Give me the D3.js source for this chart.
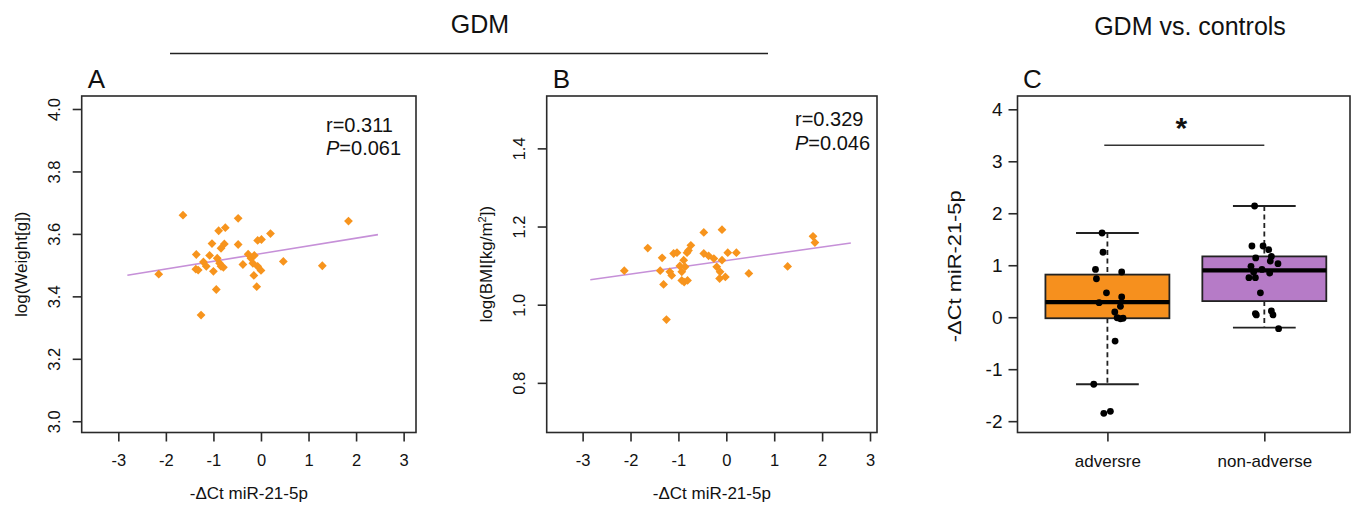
<!DOCTYPE html>
<html>
<head>
<meta charset="utf-8">
<script src="https://cdn.jsdelivr.net/npm/d3@7"></script>
<style>
  html, body { margin: 0; padding: 0; background: #fff; }
  svg { display: block; font-family: "Liberation Sans", Arial, sans-serif; }
</style>
</head>
<body>
<svg id="chart" width="1358" height="506"></svg>
<script>
// ---------------- DATA ----------------
const xTicks = [-3, -2, -1, 0, 1, 2, 3];
const yTicksA = [3.0, 3.2, 3.4, 3.6, 3.8, 4.0];
const yTicksB = [0.8, 1.0, 1.2, 1.4];
const yTicksC = [-2, -1, 0, 1, 2, 3, 4];

// Panel A: -dCt miR-21-5p vs log(Weight[g])
const aX = [-1.64, -2.15, -1.26, -1.36, -1.37, -1.32, -1.21, -1.15, -1.08, -1.03, -0.94, -1.00, -0.92,
            -0.89, -0.75, -0.77, -0.84, -0.87, -0.84, -0.79, -0.48, -0.48, -0.38, -0.27, -0.21, -0.14,
            -0.17, -0.07, 0.00, -0.15, -0.09, -0.07, 0.01, 0.20, 0.47, 1.29, 1.84];
const aY = [3.660, 3.471, 3.340, 3.534, 3.487, 3.484, 3.510, 3.496, 3.531, 3.569, 3.422, 3.480, 3.522,
            3.610, 3.620, 3.568, 3.554, 3.506, 3.496, 3.493, 3.650, 3.566, 3.502, 3.535, 3.522, 3.531,
            3.506, 3.496, 3.483, 3.467, 3.431, 3.579, 3.582, 3.601, 3.512, 3.498, 3.641];
const fitA = [3.537, 0.0247];       // intercept, slope
const fitARange = [-2.81, 2.46];
const statA = ["r=0.311", "0.061"];

// Panel B: -dCt miR-21-5p vs log(BMI[kg/m2])
const bX = [-2.13, -1.64, -1.34, -1.38, -1.31, -1.25, -1.18, -1.14, -1.10, -1.03, -0.97, -0.93, -0.89,
            -0.86, -0.93, -0.88, -0.81, -0.82, -0.74, -0.79, -0.47, -0.47, -0.37, -0.26, -0.20, -0.09,
            -0.09, -0.13, -0.14, -0.02, 0.03, 0.21, 0.47, 1.28, 1.81, 1.85];
const bY = [1.087, 1.145, 1.120, 1.087, 1.052, 0.962, 1.084, 1.075, 1.131, 1.133, 1.099, 1.084, 1.114,
            1.097, 1.062, 1.058, 1.062, 1.133, 1.152, 1.139, 1.185, 1.131, 1.125, 1.118, 1.097, 1.114,
            1.192, 1.084, 1.067, 1.071, 1.133, 1.133, 1.080, 1.098, 1.175, 1.159];
const fitB = [1.113, 0.01728];
const fitBRange = [-2.84, 2.60];
const statB = ["r=0.329", "0.046"];

// Panel C: boxplots
const groups = ["adversre", "non-adverse"];
const boxLow = [-1.29, -0.20];
const boxQ1 = [-0.02, 0.31];
const boxMed = [0.29, 0.90];
const boxQ3 = [0.82, 1.17];
const boxHigh = [1.62, 2.14];
const boxColors = ["#F6901E", "#B67BC7"];

const advVals = [1.62, 1.25, 0.92, 0.74, 0.87, 0.47, 0.28, 0.39, 0.21, 0.10, -0.01, -0.03, -0.02, -0.46, -1.29, -1.85, -1.81];
const advJit  = [-0.034, -0.028, -0.076, -0.070, 0.091, -0.006, -0.053, 0.091, 0.083, 0.047, 0.062, 0.083, 0.100, 0.049, -0.087, -0.023, 0.019];
const nonVals = [2.14, 1.37, 1.37, 1.30, 1.14, 1.17, 1.08, 1.03, 0.98, 0.92, 0.87, 0.85, 0.76, 0.76, 0.47, 0.07, 0.045, 0.12, 0.045, -0.22];
const nonJit  = [-0.062, -0.079, -0.008, 0.028, -0.055, 0.045, 0.038, 0.087, -0.085, -0.015, -0.068, 0.034, -0.098, -0.057, -0.025, -0.057, -0.051, 0.045, 0.055, 0.091];
const sigY = 3.31;
const sigRange = [0.98, 2.0];

// ---------------- DRAW ----------------
const svg = d3.select("#chart");
const FONT = "'Liberation Sans', Arial, sans-serif";
const frameColor = "#2a2a2a";
const orange = "#F7941D";
const lineCol = "#C690D8";
const intFmt = d => String(d);   // plain hyphen-minus like the original

const TOP = 96, BOTTOM = 432.5;

function frame(x0, x1) {
  svg.append("rect").attr("x", x0).attr("y", TOP).attr("width", x1 - x0).attr("height", BOTTOM - TOP)
    .attr("fill", "none").attr("stroke", frameColor).attr("stroke-width", 1.6);
}

function bottomAxis(x) {
  const g = svg.append("g").attr("transform", `translate(0,${BOTTOM})`)
    .call(d3.axisBottom(x).tickValues(xTicks).tickSize(9).tickPadding(13).tickFormat(intFmt));
  g.select(".domain").remove();
  g.selectAll(".tick line").attr("stroke", frameColor).attr("stroke-width", 1.6);
  g.selectAll("text").attr("font-family", FONT).attr("font-size", 16.5).attr("fill", "#111");
  return g;
}

function leftAxisRot(x0, y, ticks, fmt) {
  const g = svg.append("g").attr("transform", `translate(${x0},0)`)
    .call(d3.axisLeft(y).tickValues(ticks).tickSize(9).tickFormat(fmt));
  g.select(".domain").remove();
  g.selectAll(".tick line").attr("stroke", frameColor).attr("stroke-width", 1.6);
  g.selectAll("text").attr("font-family", FONT).attr("font-size", 16.5).attr("fill", "#111")
    .attr("x", null).attr("dy", null).attr("text-anchor", "middle")
    .attr("transform", "translate(-22,0) rotate(-90)");
  return g;
}

function diamond(r) { return `M0,${-r}L${r},0L0,${r}L${-r},0Z`; }

function scatterPanel(opt) {
  const x = d3.scaleLinear().domain(opt.xDom).range([opt.x0, opt.x1]);
  const y = d3.scaleLinear().domain(opt.yDom).range([BOTTOM, TOP]);
  frame(opt.x0, opt.x1);
  bottomAxis(x);
  leftAxisRot(opt.x0, y, opt.yTicks, d3.format(".1f"));
  // regression line
  const lx = opt.fitRange;
  svg.append("line")
    .attr("x1", x(lx[0])).attr("y1", y(opt.fit[0] + opt.fit[1] * lx[0]))
    .attr("x2", x(lx[1])).attr("y2", y(opt.fit[0] + opt.fit[1] * lx[1]))
    .attr("stroke", lineCol).attr("stroke-width", 1.6);
  // points
  svg.append("g").selectAll("path").data(opt.xs).join("path")
    .attr("d", diamond(4.4))
    .attr("transform", (d, i) => `translate(${x(d)},${y(opt.ys[i])})`)
    .attr("fill", orange);
  // stats text
  svg.append("text").attr("x", opt.statX).attr("y", opt.statY).attr("font-family", FONT)
    .attr("font-size", 20).attr("fill", "#111").text(opt.stat[0]);
  const t = svg.append("text").attr("x", opt.statX).attr("y", opt.statY + 23.5).attr("font-family", FONT)
    .attr("font-size", 20).attr("fill", "#111");
  t.append("tspan").attr("font-style", "italic").text("P");
  t.append("tspan").text("=" + opt.stat[1]);
  // axis titles
  svg.append("text").attr("x", (opt.x0 + opt.x1) / 2).attr("y", 499).attr("text-anchor", "middle")
    .attr("font-family", FONT).attr("font-size", 17).attr("fill", "#111").text("-ΔCt miR-21-5p");
  const yt = svg.append("text").attr("text-anchor", "middle")
    .attr("transform", `translate(${opt.x0 - 55},${(TOP + BOTTOM) / 2}) rotate(-90)`)
    .attr("font-family", FONT).attr("font-size", 17).attr("fill", "#111");
  opt.yTitle(yt);
  // panel letter
  svg.append("text").attr("x", opt.x0 + 6).attr("y", 88).attr("font-family", FONT)
    .attr("font-size", 26).attr("fill", "#111").text(opt.letter);
}

scatterPanel({
  x0: 81.7, x1: 416, xDom: [-3.77, 3.26], yDom: [2.964, 4.0416], yTicks: yTicksA,
  xs: aX, ys: aY, fit: fitA, fitRange: fitARange, stat: statA, statX: 326, statY: 131.5,
  letter: "A",
  yTitle: t => t.text("log(Weight[g])")
});

scatterPanel({
  x0: 546.7, x1: 877, xDom: [-3.75, 3.146], yDom: [0.673, 1.534], yTicks: yTicksB,
  xs: bX, ys: bY, fit: fitB, fitRange: fitBRange, stat: statB, statX: 795, statY: 126,
  letter: "B",
  yTitle: t => { t.append("tspan").text("log(BMI[kg/m"); t.append("tspan").attr("font-size", 11).attr("dy", -6).text("2");
                 t.append("tspan").attr("dy", 6).text("])"); }
});

// Group header
svg.append("text").attr("x", 480).attr("y", 33).attr("text-anchor", "middle").attr("font-family", FONT)
  .attr("font-size", 25).attr("fill", "#111").text("GDM");
svg.append("line").attr("x1", 170).attr("x2", 768).attr("y1", 53.5).attr("y2", 53.5)
  .attr("stroke", "#222").attr("stroke-width", 1.5);
svg.append("text").attr("x", 1190).attr("y", 35).attr("text-anchor", "middle").attr("font-family", FONT)
  .attr("font-size", 25).attr("fill", "#111").text("GDM vs. controls");

// ---------------- Panel C ----------------
(function () {
  const x0 = 1017.5, x1 = 1350;
  const x = d3.scaleLinear().domain([0.427, 2.546]).range([x0, x1]);
  const y = d3.scaleLinear().domain([-2.218, 4.256]).range([BOTTOM, TOP]);
  const bw = 0.79, cw = 0.4;

  frame(x0, x1);
  // x axis
  const gx = svg.append("g").attr("transform", `translate(0,${BOTTOM})`)
    .call(d3.axisBottom(x).tickValues([1, 2]).tickSize(9).tickPadding(13).tickFormat((d, i) => groups[i]));
  gx.select(".domain").remove();
  gx.selectAll(".tick line").attr("stroke", frameColor).attr("stroke-width", 1.6);
  gx.selectAll("text").attr("font-family", FONT).attr("font-size", 17).attr("fill", "#111");
  // y axis
  const gy = svg.append("g").attr("transform", `translate(${x0},0)`)
    .call(d3.axisLeft(y).tickValues(yTicksC).tickSize(9).tickPadding(6).tickFormat(intFmt));
  gy.select(".domain").remove();
  gy.selectAll(".tick line").attr("stroke", frameColor).attr("stroke-width", 1.6);
  gy.selectAll("text").attr("font-family", FONT).attr("font-size", 19).attr("fill", "#111");

  const idx = [0, 1];
  const g = svg.append("g");
  idx.forEach(i => {
    const cx = x(i + 1);
    g.append("line").attr("x1", cx).attr("x2", cx).attr("y1", y(boxHigh[i])).attr("y2", y(boxQ3[i]))
      .attr("stroke", "#222").attr("stroke-width", 1.8).attr("stroke-dasharray", "5,3.5");
    g.append("line").attr("x1", cx).attr("x2", cx).attr("y1", y(boxQ1[i])).attr("y2", y(boxLow[i]))
      .attr("stroke", "#222").attr("stroke-width", 1.8).attr("stroke-dasharray", "5,3.5");
    [boxHigh[i], boxLow[i]].forEach(v => {
      g.append("line").attr("x1", x(i + 1 - cw / 2)).attr("x2", x(i + 1 + cw / 2)).attr("y1", y(v)).attr("y2", y(v))
        .attr("stroke", "#222").attr("stroke-width", 1.8);
    });
    g.append("rect").attr("x", x(i + 1 - bw / 2)).attr("width", x(i + 1 + bw / 2) - x(i + 1 - bw / 2))
      .attr("y", y(boxQ3[i])).attr("height", y(boxQ1[i]) - y(boxQ3[i]))
      .attr("fill", boxColors[i]).attr("stroke", "#222").attr("stroke-width", 1.8);
    g.append("line").attr("x1", x(i + 1 - bw / 2)).attr("x2", x(i + 1 + bw / 2)).attr("y1", y(boxMed[i])).attr("y2", y(boxMed[i]))
      .attr("stroke", "#000").attr("stroke-width", 4.2);
  });
  // jittered points
  const pts = advVals.map((v, i) => ({ x: 1 + advJit[i], y: v }))
    .concat(nonVals.map((v, i) => ({ x: 2 + nonJit[i], y: v })));
  svg.append("g").selectAll("circle").data(pts).join("circle")
    .attr("cx", d => x(d.x)).attr("cy", d => y(d.y)).attr("r", 3.4).attr("fill", "#000");
  // significance
  svg.append("line").attr("x1", x(sigRange[0])).attr("x2", x(sigRange[1])).attr("y1", y(sigY)).attr("y2", y(sigY))
    .attr("stroke", "#333").attr("stroke-width", 1.5);
  svg.append("text").attr("x", x((sigRange[0] + sigRange[1]) / 2) - 3).attr("y", y(sigY) - 7).attr("text-anchor", "middle")
    .attr("font-family", FONT).attr("font-size", 30).attr("font-weight", "bold").attr("fill", "#111").text("*");
  // y title (slightly stretched vertically, as in the original)
  svg.append("text").attr("text-anchor", "middle")
    .attr("transform", `translate(961,${(TOP + BOTTOM) / 2 + 2}) scale(1,1.25) rotate(-90)`)
    .attr("font-family", FONT).attr("font-size", 17.5).attr("fill", "#111").text("-ΔCt miR-21-5p");
  svg.append("text").attr("x", 1023).attr("y", 88).attr("font-family", FONT)
    .attr("font-size", 26).attr("fill", "#111").text("C");
})();
</script>
</body>
</html>
